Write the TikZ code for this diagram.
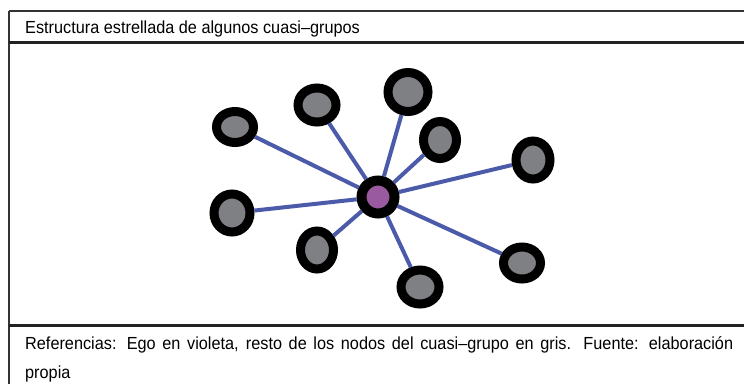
\documentclass[tikz,border=0pt]{standalone}
\usepackage{fontspec}
\setmainfont{Liberation Sans}[FakeStretch=0.93]
\usetikzlibrary{shapes.geometric}
\definecolor{edgeblue}{HTML}{4B5BAA}
\definecolor{nodegray}{HTML}{7F8084}
\definecolor{egoviolet}{HTML}{9A5AA0}
\definecolor{rulegray}{HTML}{222222}
\tikzset{
  member/.style={ellipse, draw=black, line width=9pt, fill=nodegray, inner sep=0pt},
  ego/.style={circle, draw=black, line width=10pt, fill=egoviolet, inner sep=0pt, minimum size=33pt},
  tie/.style={draw=edgeblue, line width=4pt},
  txt/.style={font=\fontsize{17.5}{21}\selectfont, inner sep=0pt, anchor=base west},
  thinrule/.style={draw=black!80, line width=1.2pt},
  thickrule/.style={draw=rulegray, line width=3pt}
}
\begin{document}
\begin{tikzpicture}[x=1pt,y=-1pt]
\useasboundingbox (0,0) rectangle (744,384);
% frame
\draw[thinrule] (9,11) -- (744,11);
\draw[thinrule] (9,11) -- (9,384);
\draw[thickrule] (9,42) -- (744,42);
\draw[thickrule] (9,325) -- (744,325);
% texts
\node[txt] (title) at (25,33.5) {Estructura estrellada de algunos cuasi–grupos};
\node[txt] (ref1) at (25,349) {\makebox[708pt][s]{Referencias: Ego en violeta, resto de los nodos del cuasi–grupo en gris. Fuente: elaboración}};
\node[txt] (ref2) at (25,378) {propia};
% nodes
\node[member, minimum width=37pt, minimum height=31pt] (a) at (235,127) {};
\node[member, minimum width=38pt, minimum height=34pt] (b) at (317,105) {};
\node[member, minimum width=40pt, minimum height=39pt] (c) at (408,92) {};
\node[member, minimum width=33pt, minimum height=37pt] (d) at (440,140) {};
\node[member, minimum width=34pt, minimum height=38pt] (e) at (533,160) {};
\node[member, minimum width=36pt, minimum height=38pt] (f) at (232,213) {};
\node[member, minimum width=33pt, minimum height=38pt] (g) at (317,250) {};
\node[member, minimum width=38pt, minimum height=34pt] (h) at (420,287) {};
\node[member, minimum width=37pt, minimum height=32pt] (i) at (522,263) {};
\node[ego] (o) at (378,197) {};
% ties
\foreach \n in {a,b,c,d,e,f,g,h,i}
  \draw[tie] (o) -- (\n);
\end{tikzpicture}
\end{document}
